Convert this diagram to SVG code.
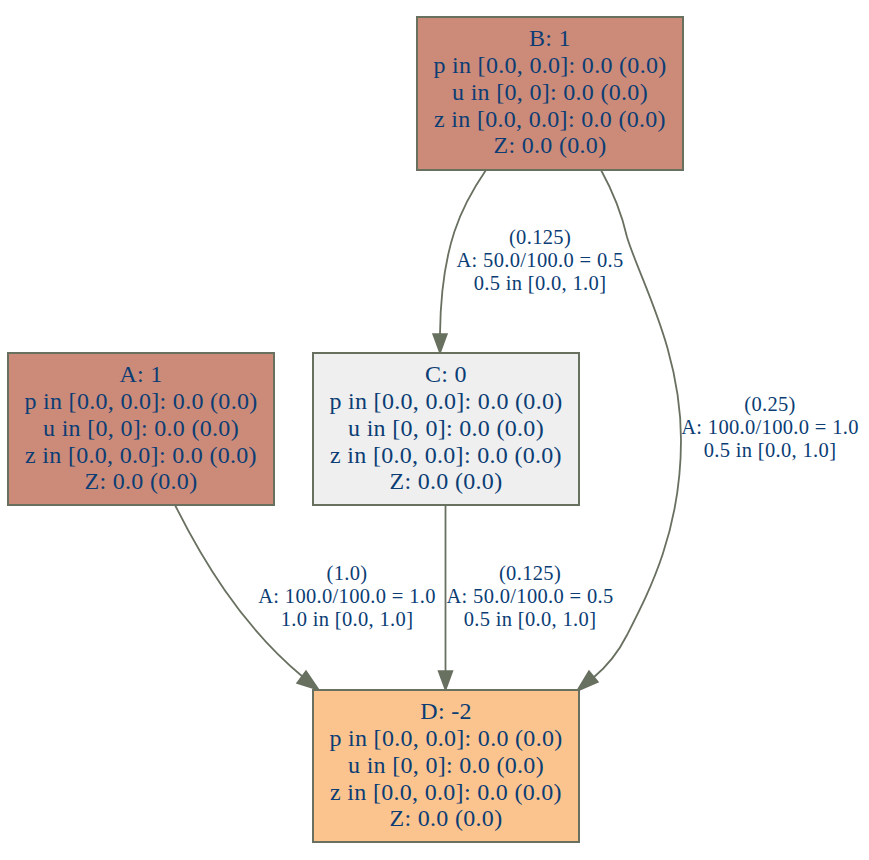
<svg xmlns="http://www.w3.org/2000/svg" width="869" height="860" viewBox="0 0 869 860">
<style>
.node rect{stroke:#687060;stroke-width:2}
.node text{font-family:"Liberation Serif","Times New Roman",serif;font-size:24px;letter-spacing:0.3px;fill:#0b3d74;text-anchor:middle}
.lbl text{font-family:"Liberation Serif","Times New Roman",serif;font-size:20.5px;letter-spacing:0.33px;fill:#0b3d74;text-anchor:middle}
.edges path{fill:none;stroke:#687060;stroke-width:1.8}
.edges polygon{fill:#687060;stroke:#687060;stroke-width:1.5}
</style>
<rect width="869" height="860" fill="#ffffff"/>
<g class="edges" id="connectors">
  <path d="M486,170 C462,205 441,245 440,334"/>
  <polygon points="440,353 433,334 447,334"/>
  <path d="M601,170 C612,190 622,215 627,237 C640,280 681,350 681,440 C681,530 650,590 627,635 C617,655 605,668 593,678"/>
  <polygon points="577,691 598,682 589,671"/>
  <path d="M175,505 C200,555 240,625 303,677"/>
  <polygon points="319,690 297,683 306,671"/>
  <path d="M445.5,505 L445.5,671"/>
  <polygon points="445.5,690 438.5,671 452.5,671"/>
</g>
<g class="lbl" id="labels">
  <text x="540" y="244">(0.125)</text>
  <text x="540" y="267">A: 50.0/100.0 = 0.5</text>
  <text x="540" y="290">0.5 in [0.0, 1.0]</text>
  <text x="770" y="411">(0.25)</text>
  <text x="770" y="434">A: 100.0/100.0 = 1.0</text>
  <text x="770" y="457">0.5 in [0.0, 1.0]</text>
  <text x="347" y="580">(1.0)</text>
  <text x="347" y="603">A: 100.0/100.0 = 1.0</text>
  <text x="347" y="626">1.0 in [0.0, 1.0]</text>
  <text x="530" y="580">(0.125)</text>
  <text x="530" y="603">A: 50.0/100.0 = 0.5</text>
  <text x="530" y="626">0.5 in [0.0, 1.0]</text>
</g>
<g class="node" id="B">
  <rect x="417" y="17" width="266" height="153" fill="#cc8b79"/>
  <text x="550" y="46">B: 1</text>
  <text x="550" y="73">p in [0.0, 0.0]: 0.0 (0.0)</text>
  <text x="550" y="100">u in [0, 0]: 0.0 (0.0)</text>
  <text x="550" y="127">z in [0.0, 0.0]: 0.0 (0.0)</text>
  <text x="550" y="153">Z: 0.0 (0.0)</text>
</g>
<g class="node" id="A">
  <rect x="8" y="353" width="266" height="152" fill="#cc8b79"/>
  <text x="141" y="382">A: 1</text>
  <text x="141" y="409">p in [0.0, 0.0]: 0.0 (0.0)</text>
  <text x="141" y="436">u in [0, 0]: 0.0 (0.0)</text>
  <text x="141" y="463">z in [0.0, 0.0]: 0.0 (0.0)</text>
  <text x="141" y="489">Z: 0.0 (0.0)</text>
</g>
<g class="node" id="C">
  <rect x="313" y="353" width="266" height="152" fill="#efefef"/>
  <text x="446" y="382">C: 0</text>
  <text x="446" y="409">p in [0.0, 0.0]: 0.0 (0.0)</text>
  <text x="446" y="436">u in [0, 0]: 0.0 (0.0)</text>
  <text x="446" y="463">z in [0.0, 0.0]: 0.0 (0.0)</text>
  <text x="446" y="489">Z: 0.0 (0.0)</text>
</g>
<g class="node" id="D">
  <rect x="313" y="690" width="266" height="152" fill="#fbc48f"/>
  <text x="446" y="719">D: -2</text>
  <text x="446" y="746">p in [0.0, 0.0]: 0.0 (0.0)</text>
  <text x="446" y="773">u in [0, 0]: 0.0 (0.0)</text>
  <text x="446" y="800">z in [0.0, 0.0]: 0.0 (0.0)</text>
  <text x="446" y="826">Z: 0.0 (0.0)</text>
</g>
</svg>
